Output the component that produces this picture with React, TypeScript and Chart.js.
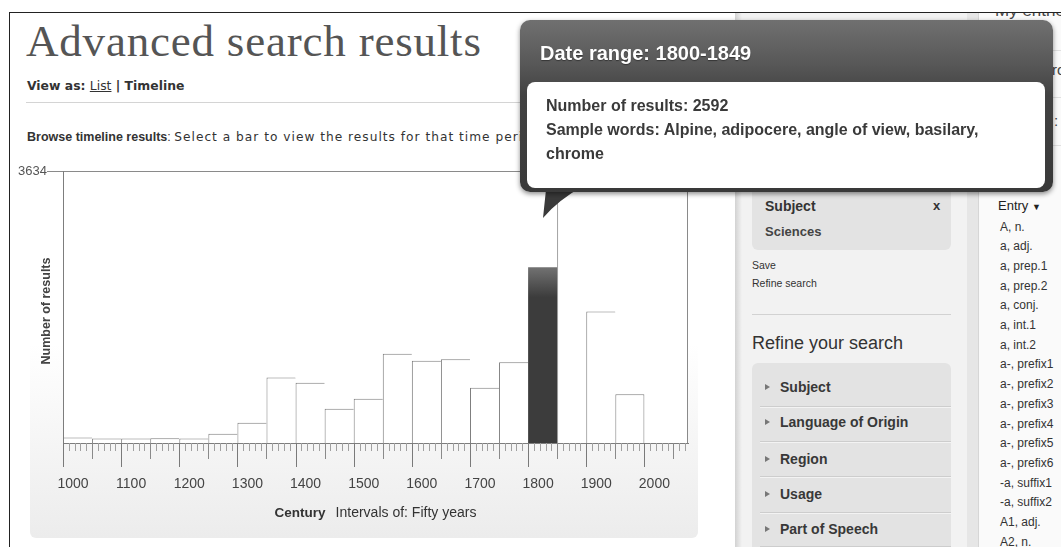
import React, { useEffect, useRef } from "react";
import { Chart, registerables } from "chart.js";

Chart.register(...registerables);

// ---------- data ----------
const periodStarts = [1000, 1050, 1100, 1150, 1200, 1250, 1300, 1350, 1400, 1450, 1500, 1550, 1600, 1650, 1700, 1750, 1800, 1850, 1900, 1950];
const resultCounts = [75, 60, 60, 62, 60, 125, 270, 875, 804, 457, 590, 1192, 1098, 1120, 737, 1080, 2349, 3634, 1757, 652];
const centuryTicks = [1000, 1100, 1200, 1300, 1400, 1500, 1600, 1700, 1800, 1900, 2000];
const yTopTick = 3634;
const axisMinYear = 1000;
const axisMaxYear = 2075;
const intervalYears = 50;
const minorStepYears = 10;
const selectedPeriod = 1800;

const entryWords = ["A, n.", "a, adj.", "a, prep.1", "a, prep.2", "a, conj.", "a, int.1", "a, int.2", "a-, prefix1", "a-, prefix2", "a-, prefix3", "a-, prefix4", "a-, prefix5", "a-, prefix6", "-a, suffix1", "-a, suffix2", "A1, adj.", "A2, n."];
const refineItems = ["Subject", "Language of Origin", "Region", "Usage", "Part of Speech"];

const SANS = "'Liberation Sans', Arial, Helvetica, sans-serif";
const WIDE = "'DejaVu Sans', Verdana, sans-serif";

function Txt(p: { x: number; cy: number; size: number; bold?: boolean; color?: string; family?: string; style?: any; children: any }) {
  const h = Math.round(p.size * 1.2);
  return (
    <div
      style={{
        position: "absolute",
        left: p.x,
        top: p.cy - h / 2,
        height: h,
        lineHeight: h + "px",
        fontSize: p.size,
        fontWeight: p.bold ? 700 : 400,
        color: p.color ?? "#333",
        fontFamily: p.family ?? SANS,
        whiteSpace: "nowrap",
        ...(p.style || {}),
      }}
    >
      {p.children}
    </div>
  );
}

const decorPlugin = {
  id: "decor",
  beforeDraw(chart: any) {
    const { ctx, chartArea: a } = chart;
    ctx.save();
    ctx.fillStyle = "#ffffff";
    ctx.fillRect(a.left, a.top, a.right - a.left, a.bottom - a.top);
    ctx.restore();
  },
  afterDraw(chart: any) {
    const { ctx, chartArea: a, scales } = chart;
    const xs = scales.x;
    ctx.save();
    // right frame of plot
    ctx.strokeStyle = "#8a8a8a";
    ctx.lineWidth = 1;
    const rx = Math.round(a.right) - 0.5;
    ctx.beginPath();
    ctx.moveTo(rx, a.top);
    ctx.lineTo(rx, a.bottom);
    ctx.stroke();
    // tick marks
    for (let v = axisMinYear; v <= axisMaxYear; v += minorStepYears) {
      const px = Math.round(xs.getPixelForValue(v)) + 0.5;
      let len = 8;
      let col = "#a0a0a0";
      if (v % 100 === 0) { len = 24; col = "#7a7a7a"; }
      else if (v % intervalYears === 0) { len = 16; col = "#8a8a8a"; }
      ctx.strokeStyle = col;
      ctx.beginPath();
      ctx.moveTo(px, a.bottom);
      ctx.lineTo(px, a.bottom + len);
      ctx.stroke();
    }
    // y title
    ctx.save();
    ctx.translate(a.left - 16, (a.top + a.bottom) / 2 + 4);
    ctx.rotate(-Math.PI / 2);
    ctx.font = "bold 12.5px " + SANS;
    ctx.fillStyle = "#444";
    ctx.textAlign = "center";
    ctx.textBaseline = "middle";
    ctx.fillText("Number of results", 0, 0);
    ctx.restore();
    // x title (mixed weights)
    const t1 = "Century";
    const t2 = "Intervals of: Fifty years";
    ctx.font = "bold 13.5px " + SANS;
    const w1 = ctx.measureText(t1).width;
    ctx.font = "14px " + SANS;
    const w2 = ctx.measureText(t2).width;
    const gap = 10;
    const start = (a.left + a.right) / 2 - (w1 + gap + w2) / 2;
    const ty = a.bottom + 70;
    ctx.fillStyle = "#333";
    ctx.textBaseline = "middle";
    ctx.textAlign = "left";
    ctx.font = "bold 13.5px " + SANS;
    ctx.fillText(t1, start, ty);
    ctx.font = "14px " + SANS;
    ctx.fillText(t2, start + w1 + gap, ty);
    ctx.restore();
  },
};

function TimelineChart() {
  const ref = useRef<HTMLCanvasElement | null>(null);
  useEffect(() => {
    const canvas = ref.current!;
    const last = periodStarts.length - 1;
    const chart = new Chart(canvas, {
      type: "bar",
      data: {
        datasets: [
          {
            data: periodStarts.map((s, i) => ({ x: s + intervalYears / 2, y: resultCounts[i] })),
            categoryPercentage: 1,
            barPercentage: 1,
            borderSkipped: false,
            inflateAmount: 0,
            backgroundColor: (c: any) => {
              if (periodStarts[c.dataIndex] !== selectedPeriod) return "#ffffff";
              const ch = c.chart;
              const ys = ch.scales && ch.scales.y;
              if (!ys) return "#3b3b3b";
              const top = ys.getPixelForValue(resultCounts[c.dataIndex]);
              const g = ch.ctx.createLinearGradient(0, top, 0, top + 30);
              g.addColorStop(0, "#727272");
              g.addColorStop(1, "#3c3c3c");
              return g;
            },
            borderColor: "#7c7c7c",
            borderWidth: (c: any) => {
              if (periodStarts[c.dataIndex] === selectedPeriod) return 0;
              return { top: 1, left: 1, right: c.dataIndex === last ? 1 : 0, bottom: 0 };
            },
          } as any,
        ],
      },
      options: {
        responsive: false,
        animation: false,
        events: [],
        layout: { padding: { top: 21, right: 12, left: 0, bottom: 0 } },
        plugins: { legend: { display: false }, tooltip: { enabled: false }, title: { display: false } },
        scales: {
          x: {
            type: "linear",
            min: axisMinYear,
            max: axisMaxYear,
            offset: false,
            grid: { display: false, drawTicks: false, offset: false },
            border: { display: true, color: "#7d7d7d" },
            afterBuildTicks: (s: any) => {
              s.ticks = centuryTicks.map((v) => ({ value: v }));
            },
            afterFit: (s: any) => {
              s.height = 97;
            },
            ticks: {
              autoSkip: false,
              maxRotation: 0,
              padding: 33,
              labelOffset: 10,
              color: "#444",
              font: { size: 14, family: SANS },
              callback: (v: any) => String(v),
            },
          },
          y: {
            min: 0,
            max: yTopTick,
            grid: { color: "#8a8a8a", tickLength: 16, drawTicks: true },
            border: { display: true, color: "#7d7d7d" },
            afterBuildTicks: (s: any) => {
              s.ticks = [{ value: yTopTick }];
            },
            afterFit: (s: any) => {
              s.width = 53;
            },
            ticks: {
              padding: 0,
              color: "#555",
              font: { size: 13, family: SANS },
              callback: (v: any) => String(v),
            },
          },
        },
      } as any,
      plugins: [decorPlugin],
    });
    return () => chart.destroy();
  }, []);
  return <canvas ref={ref} width={690} height={390} style={{ position: "absolute", left: 10, top: 150, width: 690, height: 390, display: "block" }} />;
}

export default function App() {
  return (
    <div style={{ position: "fixed", left: 0, top: 0, width: 1061, height: 547, background: "#fff", overflow: "hidden", fontFamily: SANS }}>
      {/* chart panel background */}
      <div style={{ position: "absolute", left: 30, top: 150, width: 668, height: 388, borderRadius: "0 0 6px 6px", background: "linear-gradient(to bottom, #ffffff 0%, #ffffff 50%, #ececec 100%)" }} />

      {/* middle column */}
      <div style={{ position: "absolute", left: 735, top: 12, width: 232, height: 540, background: "#f2f2f2" }} />
      <div style={{ position: "absolute", left: 735, top: 12, width: 7, height: 540, background: "linear-gradient(to right, #d2d2d2, #f2f2f2)" }} />
      <div style={{ position: "absolute", left: 967, top: 12, width: 11, height: 540, background: "#e6e6e6" }} />
      {/* right column */}
      <div style={{ position: "absolute", left: 978, top: 12, width: 90, height: 540, background: "#fafafa", borderLeft: "1px solid #d6d6d6" }} />
      {[50, 97, 145].map((y) => (
        <div key={y} style={{ position: "absolute", left: 979, top: y, width: 90, height: 1, background: "#e0e0e0" }} />
      ))}
      <Txt x={995} cy={11} size={17} color="#444">My entries</Txt>
      <Txt x={1052} cy={70} size={15} color="#444">ro</Txt>
      <Txt x={1054} cy={121} size={15} color="#444">:</Txt>

      {/* subject box */}
      <div style={{ position: "absolute", left: 752, top: 170, width: 199, height: 80, borderRadius: 6, background: "#e3e3e3" }} />
      <Txt x={765} cy={206} size={14} bold color="#333">Subject</Txt>
      <Txt x={933} cy={206} size={13} bold color="#333">x</Txt>
      <Txt x={765} cy={232} size={13} bold color="#444">Sciences</Txt>
      <Txt x={752} cy={265.5} size={10.5} color="#333">Save</Txt>
      <Txt x={752} cy={283} size={10.5} color="#333">Refine search</Txt>
      <div style={{ position: "absolute", left: 752, top: 314, width: 199, height: 1, background: "#d2d2d2" }} />
      <Txt x={752} cy={343} size={18} color="#333">Refine your search</Txt>
      <div style={{ position: "absolute", left: 752, top: 363, width: 199, height: 200, borderRadius: "6px 6px 0 0", background: "#e3e3e3" }} />
      {refineItems.map((t, i) => {
        const cy = [387, 422.5, 459, 494, 529][i];
        return (
          <React.Fragment key={t}>
            <div style={{ position: "absolute", left: 765, top: cy - 3.5, width: 0, height: 0, borderTop: "3.5px solid transparent", borderBottom: "3.5px solid transparent", borderLeft: "5px solid #777" }} />
            <Txt x={780} cy={cy} size={14} bold color="#383838">{t}</Txt>
          </React.Fragment>
        );
      })}
      {[406, 441, 476, 512, 546].map((y) => (
        <React.Fragment key={y}>
          <div style={{ position: "absolute", left: 760, top: y, width: 191, height: 1, background: "#cdcdcd" }} />
          <div style={{ position: "absolute", left: 760, top: y + 1, width: 191, height: 1, background: "#f3f3f3" }} />
        </React.Fragment>
      ))}

      {/* entries list */}
      <Txt x={998} cy={206} size={13} color="#222">Entry <span style={{ fontSize: 9 }}>▼</span></Txt>
      {entryWords.map((w, i) => (
        <Txt key={w} x={1000} cy={226.5 + i * 19.7} size={12} color="#333">{w}</Txt>
      ))}

      {/* header */}
      <div style={{ position: "absolute", left: 26, top: 19, fontFamily: "'Liberation Serif', 'Times New Roman', serif", fontSize: 45, lineHeight: "45px", letterSpacing: 0.8, color: "#555", whiteSpace: "nowrap" }}>
        Advanced search results
      </div>
      <Txt x={27} cy={85} size={12.4} family={WIDE} color="#333" style={{ fontWeight: 700 }}>
        View as: <span style={{ fontWeight: 400, textDecoration: "underline" }}>List</span> | Timeline
      </Txt>
      <div style={{ position: "absolute", left: 26, top: 102, width: 709, height: 1, background: "#d4d4d4" }} />
      <Txt x={27} cy={137} size={12.5} color="#333">
        <b>Browse timeline results</b>:{" "}
        <span style={{ fontFamily: WIDE, fontSize: 12.2, letterSpacing: 1.0 }}>Select a bar to view the results for that time period</span>
      </Txt>

      <TimelineChart />

      {/* tooltip */}
      <svg style={{ position: "absolute", left: 520, top: 180, width: 80, height: 45 }} width={80} height={45}>
        <path d="M27,0 L23,38 Q38,20 65,5 L65,0 Z" fill="#3a3a3a" />
      </svg>
      <div style={{ position: "absolute", left: 520, top: 20, width: 533, height: 172, borderRadius: 10, background: "linear-gradient(to bottom, #707070 0px, #575757 45px, #424242 75px, #393939 100%)", boxShadow: "0 2px 5px rgba(0,0,0,0.45)" }} />
      <Txt x={540} cy={53} size={20} bold color="#fff" style={{ textShadow: "0 1px 1px rgba(0,0,0,0.4)" }}>Date range: 1800-1849</Txt>
      <div style={{ position: "absolute", left: 527, top: 82, width: 518, height: 106, borderRadius: 8, background: "#fff" }} />
      <Txt x={546} cy={105.5} size={16} bold color="#3a3a3a">Number of results: 2592</Txt>
      <Txt x={546} cy={129} size={16} bold color="#3a3a3a">Sample words: Alpine, adipocere, angle of view, basilary,</Txt>
      <Txt x={546} cy={153} size={16} bold color="#3a3a3a">chrome</Txt>

      {/* outer frame */}
      <div style={{ position: "absolute", left: 0, top: 0, width: 1061, height: 12, background: "#fff" }} />
      <div style={{ position: "absolute", left: 0, top: 0, width: 9, height: 547, background: "#fff" }} />
      <div style={{ position: "absolute", left: 9, top: 12, width: 1052, height: 1, background: "#222" }} />
      <div style={{ position: "absolute", left: 9, top: 12, width: 1, height: 535, background: "#222" }} />
    </div>
  );
}
